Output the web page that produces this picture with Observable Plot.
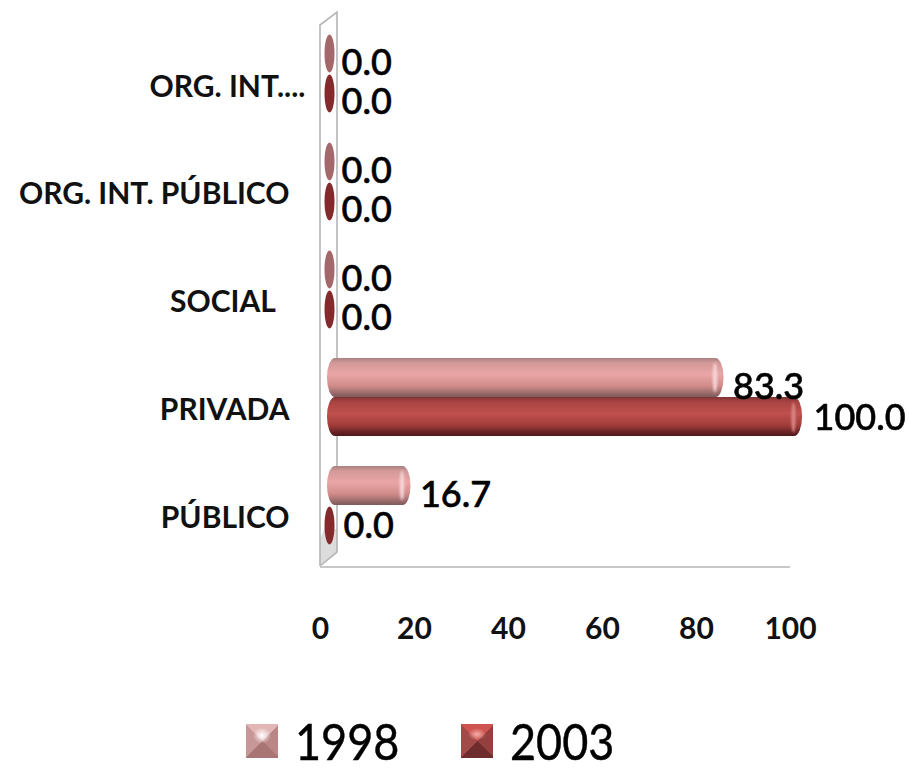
<!DOCTYPE html>
<html><head><meta charset="utf-8">
<script src="https://cdn.jsdelivr.net/npm/d3@7"></script>
<script src="https://cdn.jsdelivr.net/npm/@observablehq/plot@0.6"></script>
<style>
html,body{margin:0;padding:0;background:#fff}
#legend{display:flex;align-items:center;height:62px;padding-left:246px;font-family:Lato,sans-serif;font-size:45px;color:#000}
#legend .sw{width:32px;height:34px;margin-right:17px;flex:none;filter:blur(.6px)}
#legend .tx{width:166px;display:inline-block;transform:scaleY(1.12);-webkit-text-stroke:.4px #000}
</style></head><body>
<div id="chart"></div>
<div id="legend"></div>
<script>
const categories = ["ORG. INT....", "ORG. INT. PÚBLICO", "SOCIAL\u00a0\u00a0", "PRIVADA", "PÚBLICO"];
const values1998 = [0.0, 0.0, 0.0, 83.3, 16.7];
const values2003 = [0.0, 0.0, 0.0, 100.0, 0.0];
const years = ["1998", "2003"];
const xTicks = [0, 20, 40, 60, 80, 100];

const rows = (vals) => categories.map((c, i) => ({cat: c, v: vals[i]}));
const r98 = rows(values1998), r03 = rows(values2003);

const ellipse = (rx, ry) => ({draw(ctx) {
  const k = 0.5523;
  ctx.moveTo(0, -ry);
  ctx.bezierCurveTo(rx*k, -ry, rx, -ry*k, rx, 0);
  ctx.bezierCurveTo(rx, ry*k, rx*k, ry, 0, ry);
  ctx.bezierCurveTo(-rx*k, ry, -rx, ry*k, -rx, 0);
  ctx.bezierCurveTo(-rx, -ry*k, -rx*k, -ry, 0, -ry);
  ctx.closePath();
}});

const gradients = {
  g98: [[0,"#a98080"],[0.12,"#d39898"],[0.42,"#eaa6a6"],[0.72,"#d08a8a"],[0.92,"#936666"],[1,"#7d5a5a"]],
  g03: [[0,"#7c3434"],[0.12,"#a84442"],[0.42,"#c0504d"],[0.72,"#a23d3b"],[0.92,"#632022"],[1,"#4d1a1c"]]
};
const defs = () => {
  const d = d3.create("svg:defs");
  for (const [id, stops] of Object.entries(gradients)) {
    const g = d.append("linearGradient").attr("id", id).attr("x1",0).attr("x2",0).attr("y1",0).attr("y2",1);
    for (const [o,c] of stops) g.append("stop").attr("offset",o).attr("stop-color",c);
  }
  return d.node();
};
const wall = (index, scales, values, dim) => {
  const l = dim.marginLeft, t = dim.marginTop, b = dim.height - dim.marginBottom;
  const g = d3.create("svg:g").attr("fill","none").attr("stroke","#b5b5b5").attr("stroke-width",1.6);
  g.append("path").attr("fill","#dcdcdc").attr("stroke","none")
    .attr("d",`M${l},${b+7}L${l+17},${b-7}L${l+17},${b-30}L${l+4},${b-30}L${l},${b-20}Z`);
  g.append("path").attr("d",`M${l},${b+7}L${l},${t+6}L${l+17},${t-7}L${l+17},${b-7}L${l},${b+7}`);
  g.append("path").attr("d",`M${l},${b+8}H${dim.width-dim.marginRight}`);
  return g.node();
};

const labelFont = {fontFamily:"Lato, sans-serif", fontWeight:700, fontSize:30, fill:"#111"};
const valueFont = {fontFamily:"Lato, sans-serif", fontWeight:500, fontSize:36, fill:"#000", stroke:"#000", strokeWidth:0.6};
const fmt = d => d.v.toFixed(1);
const nonzero = d => d.v > 0, zero = d => d.v === 0;
const soft = "blur(0.5px)";

const plot = Plot.plot({
  width: 909, height: 710,
  marginLeft: 320, marginRight: 119, marginTop: 19, marginBottom: 151,
  x: {domain: [0, 100]},
  y: {domain: categories, type: "band", padding: 0},
  style: {background: "#fff"},
  marks: [
    defs,
    wall,
    Plot.axisX({ticks: xTicks, tickSize: 0, tickPadding: 58, label: null, fontFamily: "Lato, sans-serif", fontWeight: 700, fontSize: 30, fill:"#111"}),
    Plot.axisY({ticks: [], label: null, tickSize: 0}),
    Plot.text(categories.slice(1), {y: d => d, text: d => d, x: () => 0, textAnchor:"end", dx:-31, dy:13, ...labelFont}),
    Plot.text(categories.slice(0,1), {y: d => d, text: d => d, x: () => 0, textAnchor:"end", dx:-15, dy:14, ...labelFont}),
    Plot.barX(r98.filter(nonzero), {x:"v", y:"cat", dx:7, insetTop:15, insetBottom:54, insetRight:-5, rx:8, ry:19, fill:"url(#g98)", imageFilter:soft}),
    Plot.dot(r98.filter(nonzero), {x:"v", y:"cat", dx:3, dy:-20, symbol: ellipse(2.2,15), fill:"#f6d6d6", stroke:"none", imageFilter:"blur(1px)"}),
    Plot.barX(r03.filter(nonzero), {x:"v", y:"cat", dx:7, insetTop:54, insetBottom:15, insetRight:-5, rx:8, ry:19, fill:"url(#g03)", imageFilter:soft}),
    Plot.dot(r03.filter(nonzero), {x:"v", y:"cat", dx:3, dy:20, symbol: ellipse(2.2,15), fill:"#d88482", stroke:"none", imageFilter:"blur(1px)"}),
    Plot.dot(r98.filter(zero), {x:"v", y:"cat", dx:9, dy:-20, symbol: ellipse(5,19), fill:"#a4686c", stroke:"none", imageFilter:soft}),
    Plot.dot(r03.filter(zero), {x:"v", y:"cat", dx:9, dy:20, symbol: ellipse(5,19), fill:"#842a2c", stroke:"none", imageFilter:soft}),
    Plot.text(r98, {x:"v", y:"cat", text: fmt, textAnchor:"start", dx:21, dy:-10, ...valueFont}),
    Plot.text(r03.slice(0,3), {x:"v", y:"cat", text: fmt, textAnchor:"start", dx:21, dy:29, ...valueFont}),
    Plot.text(r03.slice(3), {x:"v", y:"cat", text: fmt, textAnchor:"start", dx:23, dy:21, ...valueFont})
  ]
});
document.getElementById("chart").append(plot);

const swatches = [
  "radial-gradient(ellipse 9px 8px at 50% 34%,#fff 0,rgba(255,255,255,0) 100%),conic-gradient(from -45deg,#e3b6b6 0 25%,#bb8686 0 50%,#a87474 0 75%,#c79696 0 100%)",
  "radial-gradient(ellipse 9px 6px at 50% 30%,#f3b0a8 0,rgba(243,176,168,0) 100%),conic-gradient(from -45deg,#cf5350 0 25%,#93403e 0 50%,#6f2c2c 0 75%,#a24a48 0 100%)"];
const lg = document.getElementById("legend");
years.forEach((y,i) => {
  const s = document.createElement("span"); s.className="sw"; s.style.background=swatches[i]; lg.append(s);
  const t = document.createElement("span"); t.className="tx"; t.textContent=y; lg.append(t);
});
</script>
</body></html>
